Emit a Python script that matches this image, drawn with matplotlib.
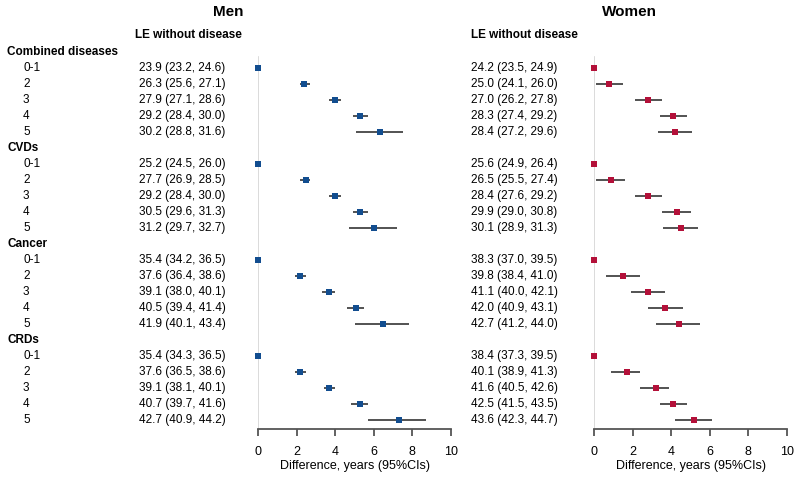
import matplotlib
matplotlib.use("Agg")
import matplotlib.pyplot as plt
from matplotlib.transforms import blended_transform_factory
import numpy as np

plt.rcParams['font.family'] = ['Liberation Sans', 'DejaVu Sans']

groups = ['Combined diseases', 'CVDs', 'Cancer', 'CRDs']
levels = ['0-1', '2', '3', '4', '5']

# LE without disease text, per group
men_le = [
    ['23.9 (23.2, 24.6)', '26.3 (25.6, 27.1)', '27.9 (27.1, 28.6)', '29.2 (28.4, 30.0)', '30.2 (28.8, 31.6)'],
    ['25.2 (24.5, 26.0)', '27.7 (26.9, 28.5)', '29.2 (28.4, 30.0)', '30.5 (29.6, 31.3)', '31.2 (29.7, 32.7)'],
    ['35.4 (34.2, 36.5)', '37.6 (36.4, 38.6)', '39.1 (38.0, 40.1)', '40.5 (39.4, 41.4)', '41.9 (40.1, 43.4)'],
    ['35.4 (34.3, 36.5)', '37.6 (36.5, 38.6)', '39.1 (38.1, 40.1)', '40.7 (39.7, 41.6)', '42.7 (40.9, 44.2)'],
]
women_le = [
    ['24.2 (23.5, 24.9)', '25.0 (24.1, 26.0)', '27.0 (26.2, 27.8)', '28.3 (27.4, 29.2)', '28.4 (27.2, 29.6)'],
    ['25.6 (24.9, 26.4)', '26.5 (25.5, 27.4)', '28.4 (27.6, 29.2)', '29.9 (29.0, 30.8)', '30.1 (28.9, 31.3)'],
    ['38.3 (37.0, 39.5)', '39.8 (38.4, 41.0)', '41.1 (40.0, 42.1)', '42.0 (40.9, 43.1)', '42.7 (41.2, 44.0)'],
    ['38.4 (37.3, 39.5)', '40.1 (38.9, 41.3)', '41.6 (40.5, 42.6)', '42.5 (41.5, 43.5)', '43.6 (42.3, 44.7)'],
]

# differences vs 0-1 (years) with 95% CI
men_diff = [[0, 2.4, 4.0, 5.3, 6.3], [0, 2.5, 4.0, 5.3, 6.0],
            [0, 2.2, 3.7, 5.1, 6.5], [0, 2.2, 3.7, 5.3, 7.3]]
men_lo = [[0, 2.2, 3.7, 4.9, 5.1], [0, 2.2, 3.7, 4.9, 4.7],
          [0, 1.9, 3.3, 4.6, 5.0], [0, 1.9, 3.4, 4.8, 5.7]]
men_hi = [[0, 2.7, 4.3, 5.7, 7.5], [0, 2.7, 4.3, 5.7, 7.2],
          [0, 2.5, 4.0, 5.5, 7.8], [0, 2.5, 4.0, 5.7, 8.7]]

women_diff = [[0, 0.8, 2.8, 4.1, 4.2], [0, 0.9, 2.8, 4.3, 4.5],
              [0, 1.5, 2.8, 3.7, 4.4], [0, 1.7, 3.2, 4.1, 5.2]]
women_lo = [[0, 0.1, 2.1, 3.4, 3.3], [0, 0.1, 2.1, 3.5, 3.6],
            [0, 0.6, 1.9, 2.8, 3.2], [0, 0.9, 2.4, 3.4, 4.2]]
women_hi = [[0, 1.5, 3.5, 4.8, 5.1], [0, 1.6, 3.5, 5.0, 5.4],
            [0, 2.4, 3.7, 4.6, 5.5], [0, 2.4, 3.9, 4.8, 6.1]]

W, H = 800, 479
fig = plt.figure(figsize=(8, 4.79), dpi=100)


def fx(px):
    return px / W


def fy(py):
    return 1 - py / H


# rows: header row then 5 levels, per group
row_y = []
for g in range(len(groups)):
    start = g * 6
    row_y.append([start + 1 + i for i in range(5)])
header_y = [g * 6 for g in range(len(groups))]

# pixel y of row r = 52 + 16*r ; axes from px 40 to 429
ax_top, ax_bot = 40, 429
ylim = ((ax_bot - 52) / 16, (ax_top - 52) / 16)

fs = 8.5


def forest(left_px, diff, lo, hi, color):
    ax = fig.add_axes([fx(left_px), fy(ax_bot), 193 / W, (ax_bot - ax_top) / H])
    ax.set_xlim(0, 10)
    ax.set_ylim(*ylim)
    ax.axvline(0, ymin=0, ymax=(ylim[0] - 0.3) / (ylim[0] - ylim[1]),
               color='#d4d4d4', lw=1.2, zorder=1)
    for g in range(len(groups)):
        y = np.array(row_y[g])
        ax.hlines(y, lo[g], hi[g], color='#444444', lw=1.3, zorder=2)
        ax.plot(diff[g], y, 's', color=color, ms=5, mew=0, zorder=3, clip_on=False)
    for s in ['top', 'right', 'left']:
        ax.spines[s].set_visible(False)
    ax.spines['bottom'].set_color('#555555')
    ax.spines['bottom'].set_linewidth(1.3)
    ax.set_yticks([])
    ax.set_xticks(range(0, 11, 2))
    ax.tick_params(axis='x', length=5, width=1.3, color='#555555', labelsize=fs + 0.5, pad=7.5)
    ax.set_xlabel('Difference, years (95%CIs)', fontsize=fs + 0.5, labelpad=1)
    return ax


ax_m = forest(258, men_diff, men_lo, men_hi, '#124d8f')
ax_w = forest(594, women_diff, women_lo, women_hi, '#b31039')

tr = blended_transform_factory(fig.transFigure, ax_m.transData)

for g, name in enumerate(groups):
    fig.text(fx(7), header_y[g], name, transform=tr, fontsize=fs, fontweight='bold', va='center')
    for i, lev in enumerate(levels):
        y = row_y[g][i]
        fig.text(fx(23), y, lev, transform=tr, fontsize=fs, va='center')
        fig.text(fx(139), y, men_le[g][i], transform=tr, fontsize=fs, va='center')
        fig.text(fx(471), y, women_le[g][i], transform=tr, fontsize=fs, va='center')

fig.text(fx(135), fy(35), 'LE without disease', fontsize=fs, fontweight='bold', va='center')
fig.text(fx(471), fy(35), 'LE without disease', fontsize=fs, fontweight='bold', va='center')
fig.text(fx(228), fy(12), 'Men', fontsize=11, fontweight='bold', ha='center', va='center')
fig.text(fx(629), fy(12), 'Women', fontsize=11, fontweight='bold', ha='center', va='center')

fig.savefig('out.png', dpi=100)
